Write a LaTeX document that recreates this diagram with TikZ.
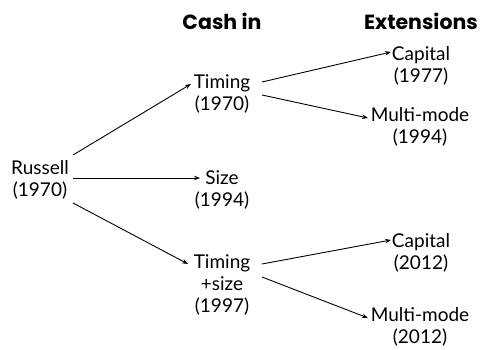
\documentclass[tikz,border=0pt]{standalone}
\usepackage{fontspec}
\setmainfont{Lato}
\newfontfamily\headfont{Poppins}
\usetikzlibrary{arrows.meta,calc}
\begin{document}
\begin{tikzpicture}[x=1pt,y=-1pt,
  lbl/.style={align=center,inner sep=0pt,font=\fontsize{19}{22}\selectfont},
  head/.style={inner sep=0pt,font=\headfont\fontsize{20.5}{22}\selectfont\bfseries},
  arr/.style={-{Stealth[length=6pt,width=4.5pt]},line width=0.9pt}]
\useasboundingbox (0,0) rectangle (480,350);
\node[head] (h1) at (222,21) {Cash in};
\node[head] (h2) at (421,21) {Extensions};
\node[lbl] (r) at (40,180) {Russell\\(1970)};
\node[lbl] (t1) at (222,94) {Timing\\(1970)};
\node[lbl] (s) at (222,190) {Size\\(1994)};
\node[lbl] (t2) at (222,285) {Timing\\+size\\(1997)};
\node[lbl] (c1) at (421,66) {Capital\\(1977)};
\node[lbl] (m1) at (420,127) {Multi-mode\\(1994)};
\node[lbl] (c2) at (421,253) {Capital\\(2012)};
\node[lbl] (m2) at (420,327) {Multi-mode\\(2012)};
\draw[arr] ($(r.center)+(33,-25)$) -- ($(t1.center)+(-31,-10)$);
\draw[arr] ($(r.center)+(33,-2)$) -- ($(s.center)+(-22,-12)$);
\draw[arr] ($(r.center)+(33,23)$) -- ($(t2.center)+(-34,-21)$);
\draw[arr] ($(t1.center)+(40,-12)$) -- ($(c1.center)+(-30,-14)$);
\draw[arr] ($(t1.center)+(40,1)$) -- ($(m1.center)+(-52,-9)$);
\draw[arr] ($(t2.center)+(40,-21)$) -- ($(c2.center)+(-30,-13)$);
\draw[arr] ($(t2.center)+(40,-8)$) -- ($(m2.center)+(-52,-9)$);
\end{tikzpicture}
\end{document}
